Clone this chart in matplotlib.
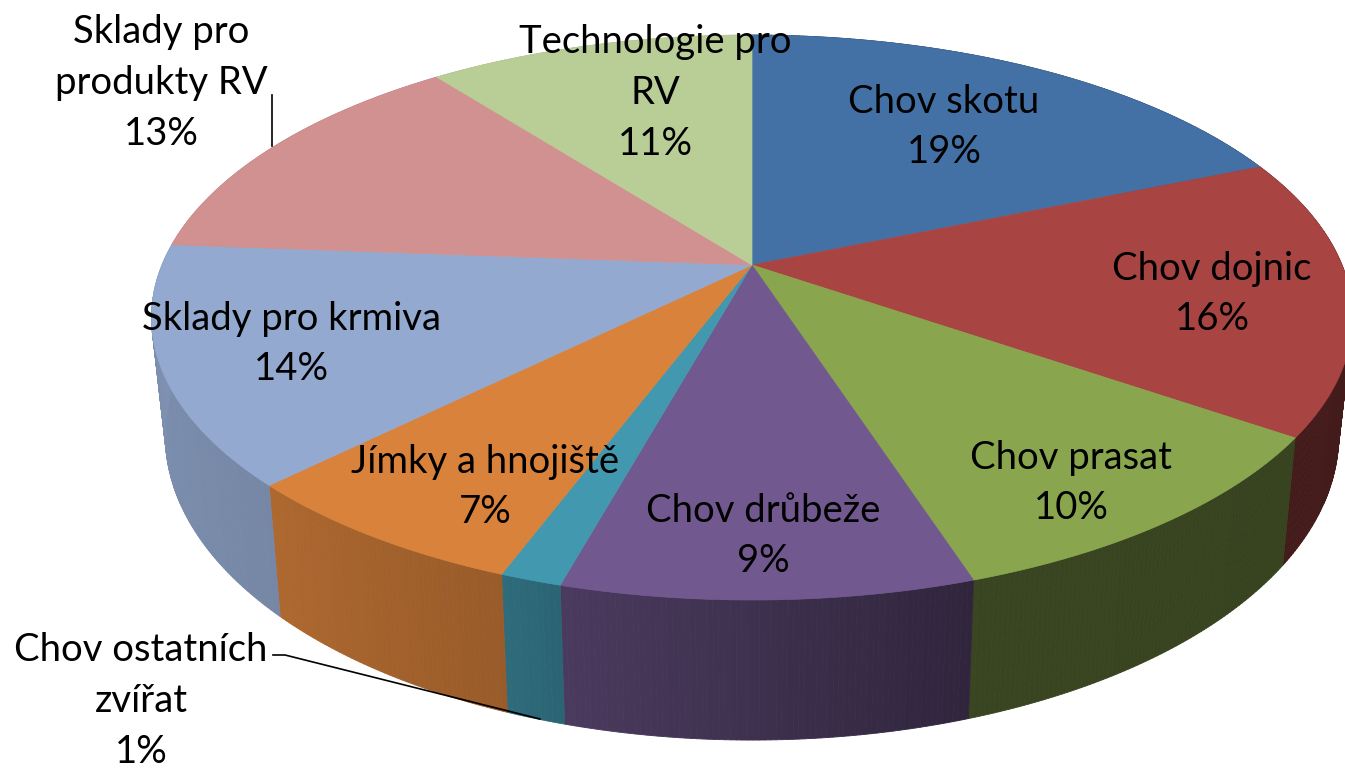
import numpy as np
import matplotlib
matplotlib.use("Agg")
import matplotlib.pyplot as plt
from matplotlib.collections import PolyCollection

# values, clockwise from 12 o'clock
labels = ["Chov skotu", "Chov dojnic", "Chov prasat", "Chov drůbeže",
          "Chov ostatních\nzvířat", "Jímky a hnojiště", "Sklady pro krmiva",
          "Sklady pro\nprodukty RV", "Technologie pro\nRV"]
values = [18.7, 15.9, 10.4, 9.3, 1.4, 6.9, 13.6, 13.3, 10.5001]
colors = ["#4371A6", "#A84442", "#89A54E", "#71588F", "#4198AF",
          "#D9823B", "#93A9CF", "#D09190", "#B9CD96"]
label_pos = [(944, 127), (1212, 294), (1071, 483), (763, 536), (141, 701),
             (485, 487), (291, 344), (161, 83), (655, 93)]

CX, CY = 752, 265
RX, RY = 590, 272.7
K = 0.186
DEPTH = 114
SHRINK = 0.977


def top_rim(a):
    # a in radians, clockwise from the back of the pie
    x, y = np.sin(a), -np.cos(a)
    d = 1 - K * y
    return CX + RX * x / d, CY + RY * y / d


def bottom_rim(a):
    x, y = top_rim(a)
    d = 1 + K * np.cos(a)
    return CX + (x - CX) * SHRINK, y + DEPTH / d


def wall_shade(pct):
    return np.interp(pct, [0, 35, 45, 54.3, 55.5, 62.5, 76, 100],
                     [.40, .40, .42, .66, .70, .80, .87, .87])


fig = plt.figure(figsize=(13.45, 7.68), dpi=100)
ax = fig.add_axes([0, 0, 1, 1])
ax.set_xlim(0, 1345)
ax.set_ylim(768, 0)
ax.axis("off")

edges = np.concatenate([[0], np.cumsum(values)])
edges = edges / edges[-1] * 100

# side walls first, the top covers whatever is behind it
for i, c in enumerate(colors):
    pcts = np.linspace(edges[i], edges[i + 1], max(int(values[i] * 8), 4))
    ang = pcts / 100 * 2 * np.pi
    tx, ty = top_rim(ang)
    bx, by = bottom_rim(ang)
    polys, cols = [], []
    base = np.array(matplotlib.colors.to_rgb(c))
    for j in range(len(ang) - 1):
        polys.append([(tx[j], ty[j]), (tx[j + 1], ty[j + 1]),
                      (bx[j + 1], by[j + 1]), (bx[j], by[j])])
        cols.append(base * wall_shade((pcts[j] + pcts[j + 1]) / 2))
    ax.add_collection(PolyCollection(polys, facecolors=cols, edgecolors=cols,
                                     linewidths=0.6, zorder=2))

# top of the pie
for i, c in enumerate(colors):
    ang = np.linspace(edges[i], edges[i + 1], 120) / 100 * 2 * np.pi
    tx, ty = top_rim(ang)
    ax.fill(np.r_[CX, tx], np.r_[CY, ty], color=c, lw=0.5, zorder=3)

# leader lines
ax.plot([272, 272], [95, 146], color="black", lw=1.2, zorder=4)
ax.plot([273, 285, 540], [655, 655, 719], color="black", lw=1.2, zorder=4)

for name, v, (x, y) in zip(labels, values, label_pos):
    ax.text(x, y, f"{name}\n{v:.0f}%", ha="center", va="center", fontsize=27.5,
            family="Lato", color="black", linespacing=1.51, zorder=5)

fig.savefig("out.png", dpi=100, facecolor="white")
